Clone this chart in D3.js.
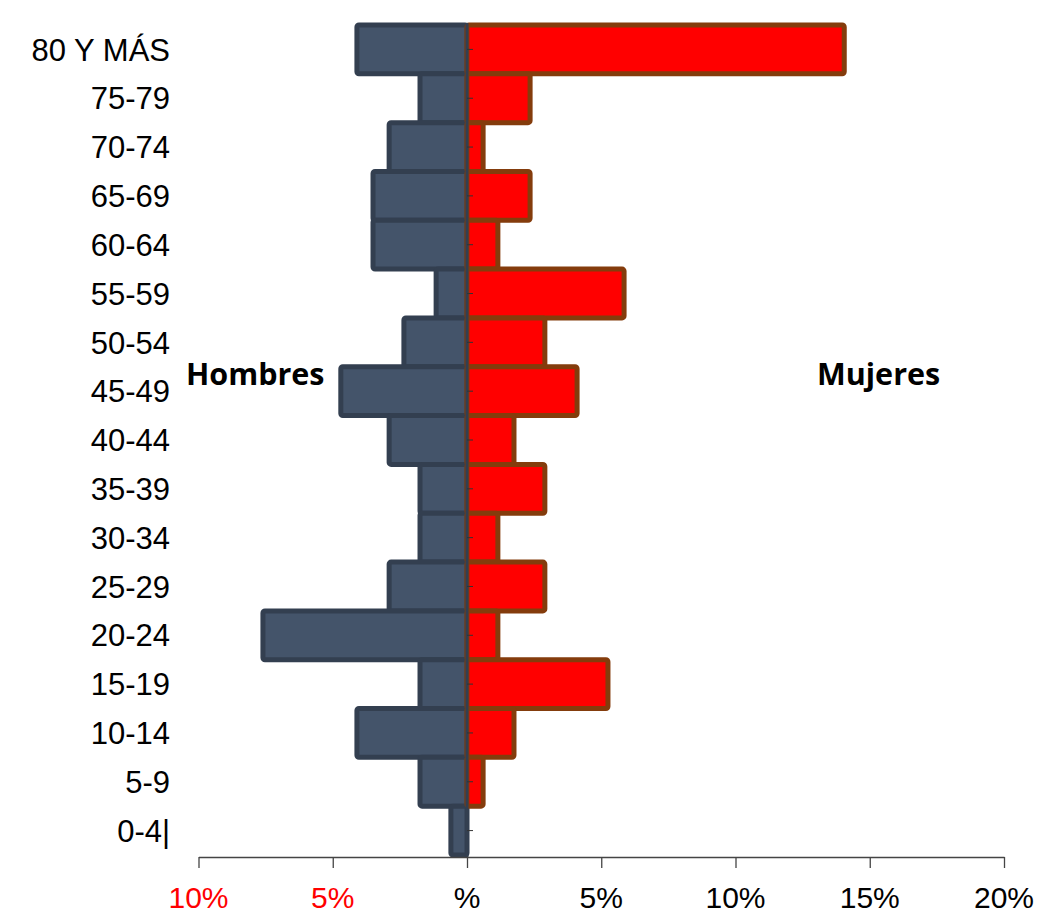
<!DOCTYPE html>
<html>
<head>
  <meta charset="utf-8">
  <script src="https://d3js.org/d3.v7.min.js"></script>
  <style>
    body { margin: 0; background: #fff; }
  </style>
</head>
<body>
<script>
var width = 1044;
var height = 915;

// grupos de edad, de arriba hacia abajo
const grupos = ["80 Y MÁS", "75-79", "70-74", "65-69", "60-64", "55-59", "50-54", "45-49",
  "40-44", "35-39", "30-34", "25-29", "20-24", "15-19", "10-14", "5-9", "0-4|"];

// porcentaje de la poblacion total
const hombres = [4.1, 1.75, 2.9, 3.5, 3.5, 1.15, 2.35, 4.7, 2.9, 1.75, 1.75, 2.9, 7.6, 1.75, 4.1, 1.75, 0.6];
const mujeres = [14.05, 2.35, 0.6, 2.35, 1.15, 5.85, 2.9, 4.1, 1.75, 2.9, 1.15, 2.9, 1.15, 5.25, 1.75, 0.6, 0];

const ticks = [-10, -5, 0, 5, 10, 15, 20];
const tickLabels = ["10%", "5%", "%", "5%", "10%", "15%", "20%"];

var x = d3.scaleLinear().domain([-10, 20]).range([198.5, 1004]);
var y = d3.scaleBand().domain(grupos).range([25, 855]).padding(0);

var svg = d3.select("body").append("svg")
    .attr("width", width)
    .attr("height", height);

// barras hombres (a la izquierda)
svg.selectAll("rect.h")
    .data(hombres)
    .enter()
    .append("rect")
    .attr("class", "h")
    .attr("x", d => x(-d))
    .attr("y", (d, i) => y(grupos[i]))
    .attr("width", d => x(0) - x(-d))
    .attr("height", y.bandwidth())
    .attr("rx", 2)
    .style("fill", "#44546A")
    .style("stroke", "#333F50")
    .style("stroke-width", 5);

// barras mujeres
svg.selectAll("rect.m")
    .data(mujeres)
    .enter()
    .append("rect")
    .attr("class", "m")
    .attr("x", x(0))
    .attr("y", (d, i) => y(grupos[i]))
    .attr("width", d => x(d) - x(0))
    .attr("height", y.bandwidth())
    .attr("rx", 2)
    .style("display", d => d > 0 ? null : "none")
    .style("fill", "#FF0000")
    .style("stroke", "#843C0C")
    .style("stroke-width", 5);

// eje vertical
var ejeY = svg.append("g");
ejeY.append("line")
    .attr("x1", x(0)).attr("x2", x(0))
    .attr("y1", 23).attr("y2", 857)
    .style("stroke", "#333F50")
    .style("stroke-width", 3);
ejeY.selectAll("line.c")
    .data(grupos)
    .enter()
    .append("line")
    .attr("x1", x(0)).attr("x2", x(0) + 6)
    .attr("y1", d => y(d) + y.bandwidth() / 2)
    .attr("y2", d => y(d) + y.bandwidth() / 2)
    .style("stroke", "#333")
    .style("stroke-width", 1);

// etiquetas de grupos
svg.selectAll("text.g")
    .data(grupos)
    .enter()
    .append("text")
    .attr("x", 170)
    .attr("y", d => y(d) + y.bandwidth() / 2)
    .attr("dy", "0.36em")
    .attr("text-anchor", "end")
    .style("font-family", "'Liberation Sans', Arial, sans-serif")
    .style("font-size", "31px")
    .style("fill", "#000")
    .text(d => d);

// eje horizontal
var ejeX = svg.append("g")
    .attr("transform", "translate(0,857)")
    .call(d3.axisBottom(x).tickValues(ticks).tickSize(11).tickSizeOuter(0).tickFormat(""));
ejeX.select(".domain").style("stroke", "#444").style("stroke-width", 1.3);
ejeX.selectAll(".tick line").style("stroke", "#444").style("stroke-width", 1.3);

svg.selectAll("text.t")
    .data(ticks)
    .enter()
    .append("text")
    .attr("x", d => x(d))
    .attr("y", 908)
    .attr("text-anchor", "middle")
    .style("font-family", "'Liberation Sans', Arial, sans-serif")
    .style("font-size", "30px")
    .style("fill", d => d < 0 ? "#FF0000" : "#000")
    .text((d, i) => tickLabels[i]);

// rotulos
svg.append("text")
    .attr("x", 186).attr("y", 385)
    .style("font-family", "'Open Sans', sans-serif")
    .style("font-weight", "bold")
    .style("font-size", "30.5px")
    .text("Hombres");
svg.append("text")
    .attr("x", 817).attr("y", 385)
    .style("font-family", "'Open Sans', sans-serif")
    .style("font-weight", "bold")
    .style("font-size", "30.5px")
    .text("Mujeres");
</script>
</body>
</html>
